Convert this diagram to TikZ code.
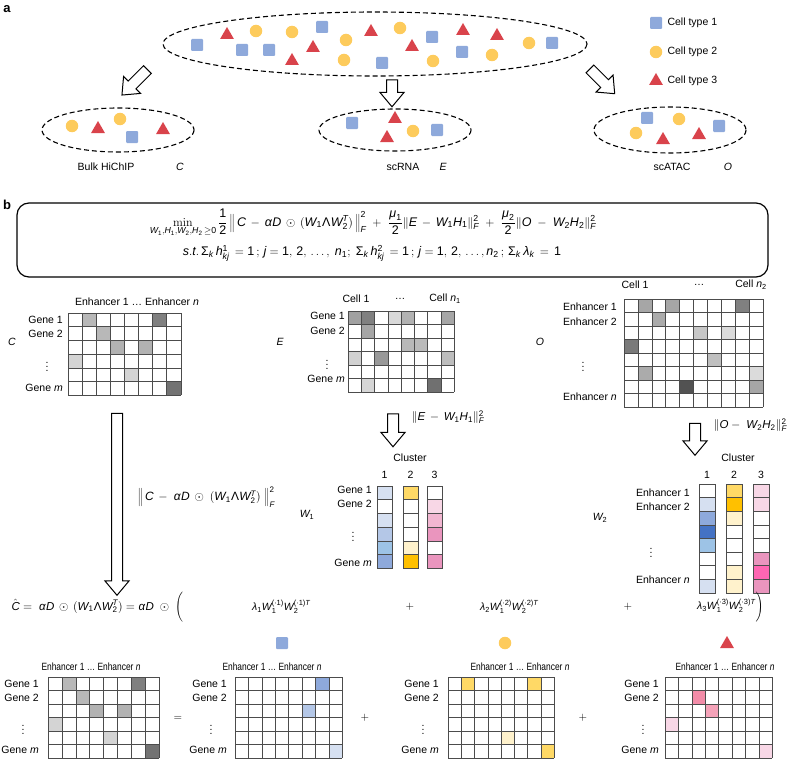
\documentclass[tikz,border=0pt]{standalone}
\usepackage{mathspec}
\setmainfont{Liberation Sans}
\setmathsfont(Digits,Latin,Greek){Liberation Sans}
\usetikzlibrary{shapes.geometric,shapes.arrows}
\definecolor{typeblue}{HTML}{8EA9DB}
\definecolor{typeyellow}{HTML}{FDCB5C}
\definecolor{typered}{HTML}{D9434B}
\definecolor{bA}{HTML}{D6E0F1}
\definecolor{bB}{HTML}{B4C7E7}
\definecolor{bC}{HTML}{9DC3E6}
\definecolor{bD}{HTML}{8EA9DB}
\definecolor{bE}{HTML}{4472C4}
\definecolor{yA}{HTML}{FFF2CC}
\definecolor{yB}{HTML}{FFD966}
\definecolor{yC}{HTML}{FFC000}
\definecolor{pA}{HTML}{F8D7E6}
\definecolor{pB}{HTML}{F2B6D1}
\definecolor{pC}{HTML}{EA95BE}
\definecolor{pD}{HTML}{FF66B2}
\definecolor{pE}{HTML}{F28CA8}
\newcommand{\colsup}[1]{\mbox{\fontsize{7.5}{8}\selectfont(·#1)}}
\tikzset{
  sqcell/.style={fill=typeblue, rounded corners=1pt, minimum size=12pt, inner sep=0pt},
  circcell/.style={circle, fill=typeyellow, minimum size=12.5pt, inner sep=0pt},
  tricell/.style={regular polygon, regular polygon sides=3, fill=typered, minimum size=16pt, inner sep=0pt},
  popline/.style={dash pattern=on 5pt off 3pt, line width=1.1pt},
  hollowarrow/.style={single arrow, draw, fill=white, line width=1pt, inner xsep=0pt, inner ysep=5pt,
    single arrow head extend=6.5pt, single arrow tip angle=80},
  gridline/.style={draw=black!70, line width=0.5pt},
  rowlbl/.style={anchor=east, inner sep=1pt},
  hdr/.style={inner sep=1pt},
  smallhdr/.style={inner sep=1pt, xscale=.8, transform shape}
}
\begin{document}
\begin{tikzpicture}[x=1pt, y=-1pt, font=\fontsize{10.5}{12}\selectfont]
\useasboundingbox (0,0) rectangle (796,760);

% a: population and samples
\node[font=\bfseries\fontsize{13}{15}\selectfont] (labA) at (7,9) {a};
\draw[popline] (375,44) ellipse [x radius=212, y radius=32];
\foreach \p [count=\i] in {(197,45),(242,50),(269,50),(322,27),(382,63),(432,37),(462,52),(552,43)}
  \node[sqcell] (popsq\i) at \p {};
\foreach \p [count=\i] in {(256,31),(292,32),(346,40),(344,60),(400,28),(433,61),(492,55),(529,43)}
  \node[circcell] (popci\i) at \p {};
\foreach \p [count=\i] in {(227,35),(292,61),(313,48),(371,32),(412,47),(463,31),(497,36)}
  \node[tricell] (poptr\i) at \p {};

\node[sqcell] (keysq) at (656,23) {};
\node[anchor=west] (keysqtxt) at (664,23) {Cell type 1};
\node[circcell] (keyci) at (656,52) {};
\node[anchor=west] (keycitxt) at (664,52) {Cell type 2};
\node[tricell] (keytr) at (656,81) {};
\node[anchor=west] (keytrtxt) at (664,81) {Cell type 3};

\node[hollowarrow, minimum height=36pt, rotate=-135] (arrbulk) at (137,80) {};
\node[hollowarrow, minimum height=27pt, rotate=-90] (arrrna) at (392,90) {};
\node[hollowarrow, minimum height=35pt, rotate=-45] (arratac) at (600,79) {};

\draw[popline] (118,130) ellipse [x radius=76, y radius=22];
\node[circcell] (bulkci1) at (72,126) {};
\node[circcell] (bulkci2) at (120,119) {};
\node[tricell] (bulktr1) at (98,129) {};
\node[tricell] (bulktr2) at (163,130) {};
\node[sqcell] (bulksq1) at (132,137) {};

\draw[popline] (395,130) ellipse [x radius=76, y radius=21];
\node[sqcell] (rnasq1) at (352,123) {};
\node[sqcell] (rnasq2) at (437,130) {};
\node[tricell] (rnatr1) at (395,119) {};
\node[tricell] (rnatr2) at (387,138) {};
\node[circcell] (rnaci1) at (413,131) {};

\draw[popline] (670,130) ellipse [x radius=76, y radius=23];
\node[sqcell] (atacsq1) at (647,118) {};
\node[sqcell] (atacsq2) at (719,126) {};
\node[circcell] (atacci1) at (679,119) {};
\node[circcell] (atacci2) at (636,133) {};
\node[tricell] (atactr1) at (663,140) {};
\node[tricell] (atactr2) at (699,135) {};

\node (bulktxt) at (106,167) {Bulk HiChIP};
\node (bulkvar) at (180,167) {$C$};
\node (rnatxt) at (403,167) {scRNA};
\node (rnavar) at (443,167) {$E$};
\node (atactxt) at (672,167) {scATAC};
\node (atacvar) at (728,167) {$O$};

% b: model
\node[font=\bfseries\fontsize{13}{15}\selectfont] (labB) at (7,205) {b};
\draw[line width=1.2pt, rounded corners=12pt] (17,203) rectangle (768,277);
\node[font=\fontsize{12.5}{14}\selectfont] (objline) at (373,223) {$\min\limits_{W_1,H_1,W_2,H_2\,\geq 0}{\displaystyle\frac{1}{2}}\left\|\,C\,-\,\alpha D\,\odot\,(W_1\Lambda W_2^T)\,\right\|_F^2\;+\;{\displaystyle\frac{\mu_1}{2}}\|E\,-\,W_1H_1\|_F^2\;+\;{\displaystyle\frac{\mu_2}{2}}\|O\;-\;W_2H_2\|_F^2$};
\node[font=\fontsize{12.5}{14}\selectfont] (conline) at (372,253) {$s.t.\,\Sigma_k\, h_{kj}^1\,=1\,;\,j=1,\,2,\,\ldots,\;n_1;\;\Sigma_k\, h_{kj}^2\,=1\,;\,j=1,\,2,\,\ldots,n_2\,;\,\Sigma_k\,\lambda_k\,=\,1$};

% C matrix
\begin{scope}[shift={(68,313)}, x=14.1pt, y=-13.7pt]
  \foreach \i/\j/\cl in {2/1/black!28, 7/1/black!50, 3/2/black!28, 4/3/black!30, 6/3/black!30, 1/4/black!17, 5/5/black!17, 8/6/black!55}
    \fill[\cl] (\i-1,\j-1) rectangle (\i,\j);
  \foreach \i in {0,...,8} \draw[gridline] (\i,0) -- (\i,6);
  \foreach \j in {0,...,6} \draw[gridline] (0,\j) -- (8,\j);
\end{scope}
\node[hdr] (chdr) at (137,302) {Enhancer 1 \dots\ Enhancer \textit{n}};
\node[rowlbl] (cg1) at (64,320) {Gene 1};
\node[rowlbl] (cg2) at (64,334) {Gene 2};
\node (cdots) at (47,364) {$\vdots$};
\node[rowlbl] (cgm) at (64,388) {Gene \textit{m}};
\node (cvar) at (12,342) {$C$};

% E matrix
\begin{scope}[shift={(348,311)}, x=13.25pt, y=-13.5pt]
  \foreach \i/\j/\cl in {1/1/black!37, 2/1/black!50, 4/1/black!15, 5/1/black!30, 8/1/black!35, 2/2/black!35, 5/3/black!28, 6/3/black!27, 1/4/black!18, 3/4/black!40, 8/4/black!26, 2/6/black!16, 7/6/black!56}
    \fill[\cl] (\i-1,\j-1) rectangle (\i,\j);
  \foreach \i in {0,...,8} \draw[gridline] (\i,0) -- (\i,6);
  \foreach \j in {0,...,6} \draw[gridline] (0,\j) -- (8,\j);
\end{scope}
\node[hdr] (ehdr1) at (356,299) {Cell 1};
\node[hdr] (ehdr2) at (400,299) {\dots};
\node[hdr] (ehdr3) at (445,299) {Cell $n_1$};
\node[rowlbl] (eg1) at (346,316) {Gene 1};
\node[rowlbl] (eg2) at (346,331) {Gene 2};
\node (edots) at (327,362) {$\vdots$};
\node[rowlbl] (egm) at (346,379) {Gene \textit{m}};
\node (evar) at (280,342) {$E$};

% O matrix
\begin{scope}[shift={(624,299)}, x=13.9pt, y=-13.5pt]
  \foreach \i/\j/\cl in {2/1/black!35, 4/1/black!35, 9/1/black!50, 3/2/black!33, 6/3/black!22, 8/3/black!14, 1/4/black!52, 7/5/black!25, 2/6/black!33, 10/6/black!14, 5/7/black!68, 10/7/black!35}
    \fill[\cl] (\i-1,\j-1) rectangle (\i,\j);
  \foreach \i in {0,...,10} \draw[gridline] (\i,0) -- (\i,8);
  \foreach \j in {0,...,8} \draw[gridline] (0,\j) -- (10,\j);
\end{scope}
\node[hdr] (ohdr1) at (635,285) {Cell 1};
\node[hdr] (ohdr2) at (699,285) {\dots};
\node[hdr] (ohdr3) at (751,285) {Cell $n_2$};
\node[rowlbl] (oe1) at (618,307) {Enhancer 1};
\node[rowlbl] (oe2) at (618,322) {Enhancer 2};
\node (odots) at (583,364) {$\vdots$};
\node[rowlbl] (oen) at (618,397) {Enhancer \textit{n}};
\node (ovar) at (540,342) {$O$};

% factorisation arrows
\node[hollowarrow, minimum height=182pt, rotate=-90] (arrc) at (117,501) {};
\node[anchor=west, font=\fontsize{12}{14}\selectfont] (arrclbl) at (134,497) {$\left\|\,C\,-\;\alpha D\,\odot\;(W_1\Lambda W_2^T)\;\right\|_F^2$};
\node[hollowarrow, minimum height=33pt, rotate=-90] (arre) at (393,427) {};
\node[anchor=west, font=\fontsize{11.5}{13}\selectfont] (arrelbl) at (408,417) {$\|E\,-\,W_1H_1\|_F^2$};
\node[hollowarrow, minimum height=32pt, rotate=-90] (arro) at (695,436) {};
\node[anchor=west, font=\fontsize{11.5}{13}\selectfont] (arrolbl) at (710,425) {$\|O-\;W_2H_2\|_F^2$};

% W1
\begin{scope}[shift={(377,486)}, x=1pt, y=-13.7pt]
  \foreach \i/\j/\cl in {0/1/bA, 0/3/bA, 0/4/bB, 0/5/bC, 0/6/bD, 26/1/yB, 26/5/yA, 26/6/yC, 50/2/pA, 50/3/pB, 50/4/pC, 50/6/pC}
    \fill[\cl] (\i,\j-1) rectangle (\i+15,\j);
  \foreach \i in {0,26,50} {
    \draw[gridline] (\i,0) rectangle (\i+15,6);
    \foreach \j in {1,...,5} \draw[gridline] (\i,\j) -- (\i+15,\j);
  }
\end{scope}
\node[hdr] (w1clu) at (410,458) {Cluster};
\node[hdr] (w1k1) at (384.5,475) {1};
\node[hdr] (w1k2) at (410.5,475) {2};
\node[hdr] (w1k3) at (434.5,475) {3};
\node[rowlbl] (wg1) at (373,490) {Gene 1};
\node[rowlbl] (wg2) at (373,504) {Gene 2};
\node (wdots) at (353,534) {$\vdots$};
\node[rowlbl] (wgm) at (373,563) {Gene \textit{m}};
\node (w1var) at (307,515) {$W_1$};

% W2
\begin{scope}[shift={(699,484)}, x=1pt, y=-13.6pt]
  \foreach \i/\j/\cl in {0/2/bA, 0/3/bD, 0/4/bE, 0/5/bC, 0/8/bA, 27/1/yB, 27/2/yC, 27/3/yA, 27/7/yA, 27/8/yA, 54/1/pA, 54/2/pA, 54/6/pC, 54/7/pD, 54/8/pC}
    \fill[\cl] (\i,\j-1) rectangle (\i+16,\j);
  \foreach \i in {0,27,54} {
    \draw[gridline] (\i,0) rectangle (\i+16,8);
    \foreach \j in {1,...,7} \draw[gridline] (\i,\j) -- (\i+16,\j);
  }
\end{scope}
\node[hdr] (w2clu) at (738,458) {Cluster};
\node[hdr] (w2k1) at (707,475) {1};
\node[hdr] (w2k2) at (734,475) {2};
\node[hdr] (w2k3) at (761,475) {3};
\node[rowlbl] (we1) at (691,493) {Enhancer 1};
\node[rowlbl] (we2) at (691,507) {Enhancer 2};
\node (wedots) at (651,550) {$\vdots$};
\node[rowlbl] (wen) at (691,580) {Enhancer \textit{n}};
\node (w2var) at (600,518) {$W_2$};

% decomposition
\node[anchor=west, font=\fontsize{11.5}{13}\selectfont] (chat) at (8,607) {$\hat{C}=\;\alpha D\,\odot\,(W_1\Lambda W_2^T)=\alpha D\;\odot\;\Bigg($};
\node (term1) at (281,607) {$\lambda_1W_1^{\colsup{1}}W_2^{\colsup{1}T}$};
\node (plus1) at (410,607) {$+$};
\node (term2) at (509,607) {$\lambda_2W_1^{\colsup{2}}W_2^{\colsup{2}T}$};
\node (plus2) at (628,607) {$+$};
\node (term3) at (730,607) {$\lambda_3W_1^{\colsup{3}}W_2^{\colsup{3}T}\Bigg)$};
\node[sqcell] (termsq) at (282,643) {};
\node[circcell] (termci) at (505,643) {};
\node[tricell] (termtr) at (727,644) {};

% bottom matrices
\begin{scope}[shift={(48,677)}, x=13.9pt, y=-13.5pt]
  \foreach \i/\j/\cl in {2/1/black!28, 7/1/black!50, 3/2/black!28, 4/3/black!30, 6/3/black!30, 1/4/black!17, 5/5/black!17, 8/6/black!55}
    \fill[\cl] (\i-1,\j-1) rectangle (\i,\j);
  \foreach \i in {0,...,8} \draw[gridline] (\i,0) -- (\i,6);
  \foreach \j in {0,...,6} \draw[gridline] (0,\j) -- (8,\j);
\end{scope}
\begin{scope}[shift={(235,677)}, x=13.4pt, y=-13.5pt]
  \foreach \i/\j/\cl in {7/1/bD, 6/3/bB, 8/6/bA}
    \fill[\cl] (\i-1,\j-1) rectangle (\i,\j);
  \foreach \i in {0,...,8} \draw[gridline] (\i,0) -- (\i,6);
  \foreach \j in {0,...,6} \draw[gridline] (0,\j) -- (8,\j);
\end{scope}
\begin{scope}[shift={(448,677)}, x=13.25pt, y=-13.5pt]
  \foreach \i/\j/\cl in {2/1/yB, 7/1/yB, 5/5/yA, 8/6/yB}
    \fill[\cl] (\i-1,\j-1) rectangle (\i,\j);
  \foreach \i in {0,...,8} \draw[gridline] (\i,0) -- (\i,6);
  \foreach \j in {0,...,6} \draw[gridline] (0,\j) -- (8,\j);
\end{scope}
\begin{scope}[shift={(665,677)}, x=13.4pt, y=-13.5pt]
  \foreach \i/\j/\cl in {3/2/pE, 4/3/pE!80, 1/4/pA, 8/6/pA}
    \fill[\cl] (\i-1,\j-1) rectangle (\i,\j);
  \foreach \i in {0,...,8} \draw[gridline] (\i,0) -- (\i,6);
  \foreach \j in {0,...,6} \draw[gridline] (0,\j) -- (8,\j);
\end{scope}
\foreach \x/\hx/\lx [count=\k] in {48/91/40, 235/272/228, 448/520/440, 665/725/660} {
  \node[smallhdr] (bhdr\k) at (\hx,667) {Enhancer 1 \dots\ Enhancer \textit{n}};
  \node[rowlbl] (bg1\k) at (\lx,684) {Gene 1};
  \node[rowlbl] (bg2\k) at (\lx,698) {Gene 2};
  \node (bdots\k) at (\lx-17,727) {$\vdots$};
  \node[rowlbl] (bgm\k) at (\lx,750) {Gene \textit{m}};
}
\node (beq) at (178,718) {$=$};
\node (bplus1) at (365,718) {$+$};
\node (bplus2) at (583,718) {$+$};
\end{tikzpicture}
\end{document}
